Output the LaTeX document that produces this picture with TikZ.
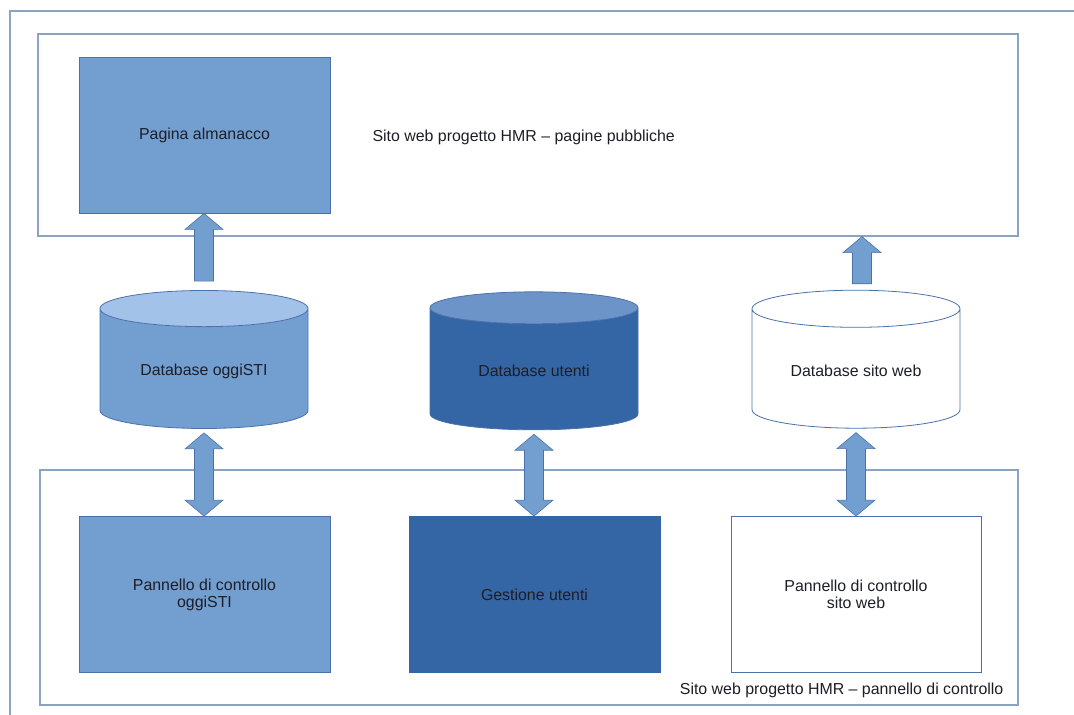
\documentclass[tikz,border=0pt]{standalone}
\usepackage{fontspec}
\setmainfont{Liberation Sans}
\usetikzlibrary{positioning,calc,shapes.geometric}

\definecolor{lightblue}{HTML}{729FCF}
\definecolor{lighttop}{HTML}{A3C2E9}
\definecolor{darkblue}{HTML}{3465A4}
\definecolor{darktop}{HTML}{6D94C8}
\definecolor{edgeblue}{HTML}{4A72A8}
\definecolor{framegray}{HTML}{8CA3C2}
\definecolor{textdark}{HTML}{1E1E28}

% block arrow pointing up: #1 tail, #2 tip (x taken from the tail)
\newcommand{\feedarrow}[2]{%
    \filldraw[blockarrow] let \p1 = #1, \p2 = #2 in
        (\x1-9.5pt,\y1) -- (\x1-9.5pt,\y2-16pt) -- (\x1-19pt,\y2-16pt) --
        (\x1,\y2) -- (\x1+19pt,\y2-16pt) -- (\x1+9.5pt,\y2-16pt) --
        (\x1+9.5pt,\y1) -- cycle;}
% double block arrow: #1 upper tip, #2 lower tip
\newcommand{\bothways}[2]{%
    \filldraw[blockarrow] let \p1 = #1, \p2 = #2 in
        (\x1,\y1) -- (\x1+19pt,\y1-16pt) -- (\x1+9.5pt,\y1-16pt) --
        (\x1+9.5pt,\y2+16pt) -- (\x1+19pt,\y2+16pt) -- (\x1,\y2) --
        (\x1-19pt,\y2+16pt) -- (\x1-9.5pt,\y2+16pt) -- (\x1-9.5pt,\y1-16pt) --
        (\x1-19pt,\y1-16pt) -- cycle;}

\begin{document}
\begin{tikzpicture}[
    x = 1pt,
    y = -1pt,
    font = \fontsize{15.9}{17}\selectfont,
    text = textdark,
    panel/.style={
        draw = framegray,
        line width = 1.2pt,
        fill = white
    },
    block/.style={
        draw = edgeblue,
        line width = 0.8pt,
        minimum width = 251pt,
        minimum height = 156pt,
        align = center
    },
    db/.style={
        cylinder,
        shape border rotate = 90,
        aspect = 0.27,
        draw = edgeblue,
        line width = 0.8pt,
        minimum width = 208pt,
        minimum height = 138pt,
        cylinder uses custom fill
    },
    blockarrow/.style={
        fill = lightblue,
        draw = edgeblue,
        line width = 0.6pt
    },
    plain/.style={
        draw = none,
        fill = none,
        inner sep = 0pt
    }
]

\useasboundingbox (0,0) rectangle (1074,715);
\draw[framegray, line width = 1.2pt] (10,720) -- (10,11) -- (1080,11);

% panels
\node[panel, minimum width = 980pt, minimum height = 202pt] (pubpanel) at (528,135) {};
\node[panel, minimum width = 978pt, minimum height = 235pt] (ctlpanel) at (529,587.5) {};

% public pages
\node[block, fill = lightblue] (almanac) at (204.5,135) {Pagina almanacco};
\node[plain, anchor = west, right = 42pt of almanac.east, yshift = -2pt] (publabel)
    {Sito web progetto HMR -- pagine pubbliche};

% databases
\node[db, cylinder body fill = lightblue, cylinder end fill = lighttop] (dbogg) at (204,371) {Database oggiSTI};
\node[db, cylinder body fill = darkblue, cylinder end fill = darktop] (dbusers) at (534,371) {Database utenti};
\node[db, cylinder body fill = white, cylinder end fill = white] (dbweb) at (856,371) {Database sito web};

% control panel
\node[block, fill = lightblue] (ctlogg) at (204.5,594.5) {Pannello di controllo\\oggiSTI};
\node[block, fill = darkblue, draw = darkblue] (ctlusers) at (534.5,594.5) {Gestione utenti};
\node[block, fill = white, minimum width = 250pt] (ctlweb) at (856,594.5) {Pannello di controllo\\sito web};
\node[plain, anchor = base east] (ctllabel) at ($(ctlpanel.south east)+(-15,-11)$)
    {Sito web progetto HMR -- pannello di controllo};

% arrows
\feedarrow{($(dbogg.north)+(0,-9)$)}{(almanac.south)}
\feedarrow{($(dbweb.north)+(6,-6)$)}{(pubpanel.south)}
\foreach \db/\ctl in {dbogg/ctlogg, dbusers/ctlusers, dbweb/ctlweb}
    \bothways{($(\db.south)+(0,4)$)}{(\ctl.north)};

\end{tikzpicture}
\end{document}
